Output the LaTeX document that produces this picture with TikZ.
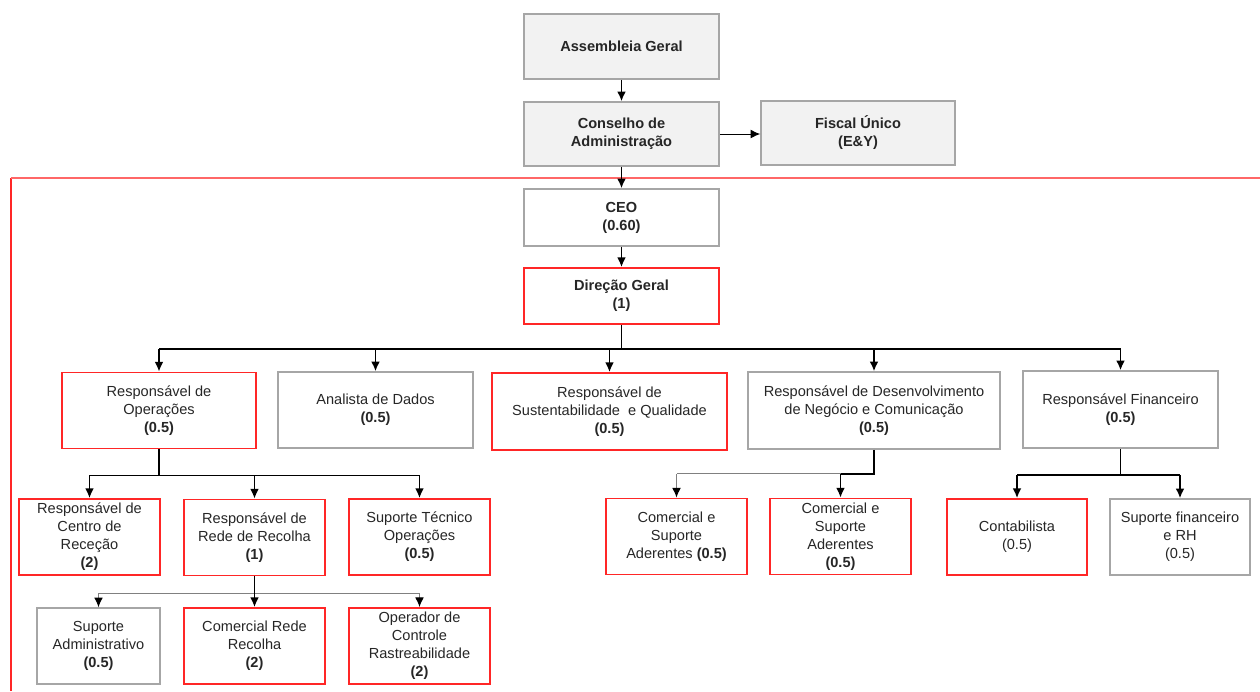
\documentclass[tikz,border=0pt]{standalone}
\usepackage{fontspec}
\setmainfont{Liberation Sans}
\usetikzlibrary{arrows.meta,positioning}

\definecolor{boxgray}{HTML}{A6A6A6}
\definecolor{boxfill}{HTML}{F2F2F2}
\definecolor{boxred}{HTML}{FF2626}
\definecolor{txt}{HTML}{262626}

\begin{document}
\begin{tikzpicture}[
    x=0.02cm, y=-0.02cm,
    box/.style={
        draw=boxgray,
        line width=0.9pt,
        align=center,
        text=txt,
        inner sep=1pt,
        font=\fontsize{8.3}{10.2}\selectfont,
        minimum width=3.9cm,
        minimum height=1.52cm
    },
    boldtext/.style={font=\fontsize{8.3}{10.2}\selectfont\bfseries},
    govbox/.style={box, boldtext, fill=boxfill},
    redbox/.style={box, draw=boxred, line width=1.1pt},
    narrow/.style={minimum width=2.82cm},
    bus/.style={line width=0.9pt},
    thinbus/.style={line width=0.6pt, draw=gray},
    edge/.style={-{Latex[length=5.5pt,width=5pt]}, line width=0.9pt},
    thinedge/.style={-{Latex[length=5.5pt,width=5pt,color=black]}, line width=0.6pt}
]
\useasboundingbox (0,0) rectangle (1260,691);
\draw[boxred, line width=1.1pt] (11,691) -- (11,178);
\draw[boxred!70, line width=1.1pt] (11,178) -- (1260,178);

\node[govbox, minimum height=1.3cm] (ag) at (621.5,46.5) {Assembleia Geral};
\node[govbox, minimum height=1.28cm] (ca) at (621.5,134) {Conselho de\\Administração};
\node[govbox, minimum width=3.88cm, minimum height=1.28cm] (fu) at (858,133) {Fiscal Único\\(E\&Y)};
\node[box, boldtext, minimum height=1.14cm] (ceo) at (621.5,217.5) {CEO\\(0.60)};
\node[redbox, boldtext, minimum height=1.12cm] (dg) at (621.5,296) {Direção Geral\\(1)};

\node[redbox, minimum width=3.88cm] (rop) at (159,410.5) {Responsável de\\Operações\\\textbf{(0.5)}};
\node[box] (ad) at (375.5,410) {Analista de Dados\\\textbf{(0.5)}};
\node[redbox, minimum width=4.7cm, minimum height=1.54cm] (rsq) at (609.5,411.5) {Responsável de\\Sustentabilidade\ \ e Qualidade\\\textbf{(0.5)}};
\node[box, minimum width=5.04cm, minimum height=1.54cm] (rdn) at (874,410.5) {Responsável de Desenvolvimento\\de Negócio e Comunicação\\\textbf{(0.5)}};
\node[box, minimum height=1.54cm] (rf) at (1120.5,409.5) {Responsável Financeiro\\\textbf{(0.5)}};

\node[redbox, narrow] (rcr) at (89.5,537) {Responsável de\\Centro de\\Receção\\\textbf{(2)}};
\node[redbox, narrow] (rrr) at (254.5,537.5) {Responsável de\\Rede de Recolha\\\textbf{(1)}};
\node[redbox, narrow] (sto) at (419.5,537) {Suporte Técnico\\Operações\\\textbf{(0.5)}};
\node[redbox, narrow] (csa1) at (676.5,536.5) {Comercial e\\Suporte\\Aderentes \textbf{(0.5)}};
\node[redbox, narrow] (csa2) at (840.5,536.5) {Comercial e\\Suporte\\Aderentes\\\textbf{(0.5)}};
\node[redbox, narrow, minimum width=2.8cm] (cont) at (1017,537) {Contabilista\\(0.5)};
\node[box, narrow, minimum width=2.8cm] (sfrh) at (1180,537) {Suporte financeiro\\e RH\\(0.5)};

\node[box, minimum width=2.46cm] (sa) at (98.5,646) {Suporte\\Administrativo\\\textbf{(0.5)}};
\node[redbox, narrow] (crr) at (254.5,646) {Comercial Rede\\Recolha\\\textbf{(2)}};
\node[redbox, narrow] (ocr) at (419.5,646) {Operador de\\Controle\\Rastreabilidade\\\textbf{(2)}};

\draw[edge] (ag) -- (ca);
\draw[edge] (ca) -- (ceo);
\draw[edge] (ceo) -- (dg);
\draw[thinedge, line width=0.5pt] (ca.east) -- (ca.east -| fu.west);

\draw[bus] (dg.south) -- ++(0,24) coordinate (j2);
\draw[bus] (j2 -| rop.north) -- (j2 -| rf.north);
\foreach \n in {rop,ad,rsq,rdn,rf}
    \draw[edge] (j2 -| \n.north) -- (\n.north);

\draw[bus] (rop.south) -- ++(0,26) coordinate (j3);
\draw[bus] (j3 -| rcr.north) -- (j3 -| sto.north);
\foreach \n in {rcr,rrr,sto}
    \draw[edge] (j3 -| \n.north) -- (\n.north);

\draw[thinbus] (rrr.south) ++(0,17) coordinate (j4) (j4 -| sa.north) -- (j4 -| ocr.north);
\foreach \n in {sa,ocr}
    \draw[thinedge, draw=gray] (j4 -| \n.north) -- (\n.north);
\draw[edge] (rrr) -- (crr);

\draw[bus] (rdn.south) -- ++(0,24) coordinate (j5) -- (j5 -| csa2.north);
\draw[thinbus] (j5 -| csa2.north) -- (j5 -| csa1.north);
\draw[thinedge, draw=gray] (j5 -| csa1.north) -- (csa1.north);
\draw[edge] (j5 -| csa2.north) -- (csa2.north);

\draw[bus] (rf.south) -- ++(0,26) coordinate (j6);
\draw[bus] (j6 -| cont.north) -- (j6 -| sfrh.north);
\foreach \n in {cont,sfrh}
    \draw[edge] (j6 -| \n.north) -- (\n.north);
\end{tikzpicture}
\end{document}
